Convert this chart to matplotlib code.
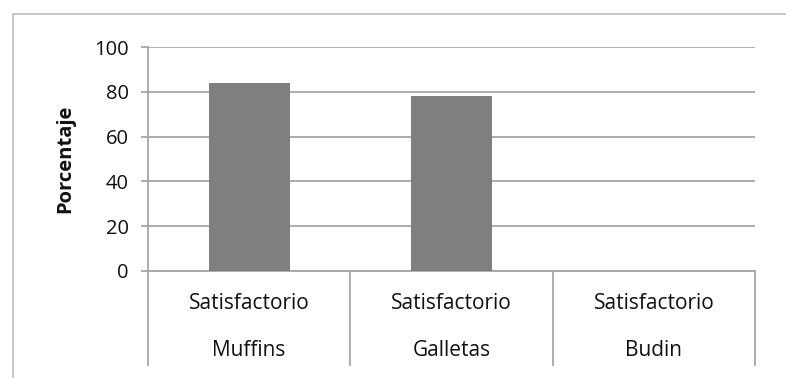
import matplotlib
matplotlib.use("Agg")
import matplotlib.pyplot as plt
from matplotlib.lines import Line2D
from matplotlib.transforms import blended_transform_factory

plt.rcParams['font.family'] = ['Open Sans', 'DejaVu Sans']

niveles = ["Satisfactorio", "Satisfactorio", "Satisfactorio"]
productos = ["Muffins", "Galletas", "Budin"]
porcentajes = [84, 78, 0]
yticks = [0, 20, 40, 60, 80, 100]

W, H = 786, 378
fig = plt.figure(figsize=(W / 100, H / 100), dpi=100)
ax = fig.add_axes([148 / W, 1 - 271 / H, (755 - 148) / W, (271 - 47) / H])

x = list(range(len(productos)))
ax.bar(x, porcentajes, width=0.40, color="#7f7f7f", zorder=3)

ax.set_xlim(-0.5, len(productos) - 0.5)
ax.set_ylim(0, 100)
ax.set_yticks(yticks)
ax.set_xticks([])
ax.grid(axis="y", color="#a6a6a6", linewidth=1.3, zorder=0)
ax.tick_params(axis="y", length=5, width=1.3, color="#a6a6a6",
               labelsize=14.5, labelcolor="#111111", pad=9)
for s in ["top", "right"]:
    ax.spines[s].set_visible(False)
for s in ["left", "bottom"]:
    ax.spines[s].set_color("#a6a6a6")
    ax.spines[s].set_linewidth(1.3)

ax.set_ylabel("Porcentaje", fontsize=14.5, fontweight="bold", color="#111111")
ax.yaxis.set_label_coords(-0.12, 0.5)

# etiquetas de categoria en dos niveles
tr = blended_transform_factory(ax.transData, ax.transAxes)
for i in range(len(productos) + 1):
    ax.add_line(Line2D([i - 0.5, i - 0.5], [0, -0.42], transform=tr,
                       color="#a6a6a6", linewidth=1.3, clip_on=False))
for i, (n, p) in enumerate(zip(niveles, productos)):
    ax.text(i, -0.145, n, transform=tr, ha="center", va="center", fontsize=15, color="#111111")
    ax.text(i, -0.355, p, transform=tr, ha="center", va="center", fontsize=15, color="#111111")

# borde exterior
fig.add_artist(Line2D([13 / W, 13 / W], [0, 1 - 14 / H], transform=fig.transFigure,
                      color="#bdbdbd", linewidth=1.2))
fig.add_artist(Line2D([13 / W, 1], [1 - 14 / H, 1 - 14 / H], transform=fig.transFigure,
                      color="#bdbdbd", linewidth=1.2))

fig.savefig("out.png", dpi=100)
